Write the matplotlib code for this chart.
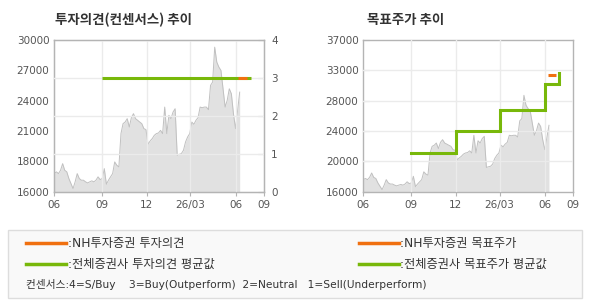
import numpy as np
import matplotlib
matplotlib.use('Agg')
import matplotlib.pyplot as plt
from matplotlib.patches import Rectangle
from matplotlib.lines import Line2D

plt.rcParams['font.family'] = ['DejaVu Sans']
KR = ['Noto Sans CJK KR', 'DejaVu Sans']
MIX = ['DejaVu Sans', 'Noto Sans CJK KR']

# stock price, one value every 3 trading days starting June
price = [17670, 17830, 17670, 17980, 18590, 17980, 17830, 17210, 16750, 16290,
         16910, 17670, 17210, 17060, 17060, 16910, 16810, 16910, 17000, 16910,
         17060, 17370, 17120, 17210, 18130, 16690, 17060, 17370, 17670, 18750,
         18440, 18290, 21360, 22280, 22430, 22740, 21970, 22830, 23200, 22740,
         22590, 22430, 22280, 21820, 21730, 20380, 20680, 20900, 21200, 21360,
         21420, 21660, 21360, 23810, 21360, 23050, 22740, 23350, 23660, 19360,
         19450, 19520, 19820, 20590, 21050, 21360, 22430, 22220, 22590, 22830,
         23810, 23750, 23810, 23810, 23570, 25810, 26120, 29340, 27960, 27500,
         27190, 25500, 23810, 24430, 25500, 25040, 23200, 21820, 23510, 25190]
day_step = 3
days = np.arange(len(price)) * day_step

tick_days = [0, 69, 133, 196, 261, 302]
tick_labels = ['06', '09', '12', '26/03', '06', '09']

# consensus (left chart)
nh_opinion_days = [264, 278]
nh_opinion = [3, 3]
avg_opinion_days = [69, 283]
avg_opinion = [3, 3]
left_ylabels = ['16000', '18000', '21000', '24000', '27000', '30000']

# target price (right chart)
avg_target_days = [69, 133, 196, 261, 282]
avg_target = [21400, 24400, 27300, 30900, 32400]
nh_target_days = [265, 277]
nh_target = [32200, 32200]
right_ylabels = ['16000', '20000', '24000', '28000', '33000', '37000']

orange = '#f07010'
green = '#78b80a'
spine_c = '#b4b4b4'
grid_c = '#ebebeb'
txt_c = '#555555'

fig = plt.figure(figsize=(5.9, 3.0), dpi=100)
W, H = 590, 300


def box(x0, y0, x1, y1):
    return [x0 / W, 1 - y1 / H, (x1 - x0) / W, (y1 - y0) / H]


def base(ax, ymin, ymax, labels):
    ax.fill_between(days, price, ymin, color='#e1e1e1', lw=0, zorder=1)
    ax.plot(days, price, color='#c0c0c0', lw=0.7, zorder=1.5)
    ax.set_xlim(tick_days[0], tick_days[-1])
    ax.set_ylim(ymin, ymax)
    ax.set_xticks(tick_days)
    ax.set_xticklabels(tick_labels)
    ax.set_yticks(np.linspace(ymin, ymax, len(labels)))
    ax.set_yticklabels(labels)
    ax.tick_params(axis='x', direction='out', length=3, color=spine_c,
                   labelsize=7.5, labelcolor=txt_c, pad=3)
    for d in tick_days[1:-1]:
        ax.axvline(d, color=grid_c, lw=1, zorder=3)
    for s in ax.spines.values():
        s.set_color(spine_c)
        s.set_linewidth(1)


# left chart
ax1 = fig.add_axes(box(54.3, 40, 264, 191.7))
base(ax1, 16000, 30000, left_ylabels)
ax1.tick_params(axis='y', length=0, labelsize=7.5, labelcolor=txt_c, pad=3.5)
ax1b = ax1.twinx()
ax1b.set_ylim(0, 4)
ax1b.set_yticks([0, 1, 2, 3, 4])
ax1b.tick_params(axis='y', direction='in', length=4, color=spine_c,
                 labelsize=7.5, labelcolor=txt_c, pad=5)
for v in [1, 2, 3]:
    ax1b.axhline(v, color=grid_c, lw=1, zorder=3)
for s in ax1b.spines.values():
    s.set_color(spine_c)
ax1b.plot(avg_opinion_days, avg_opinion, color=green, lw=2.2, zorder=5,
          solid_capstyle='butt')
ax1b.plot(nh_opinion_days, nh_opinion, color=orange, lw=2.2, zorder=6,
          solid_capstyle='butt')

# right chart
ax2 = fig.add_axes(box(363.3, 40, 573.3, 191.7))
base(ax2, 16000, 37000, right_ylabels)
ax2.tick_params(axis='y', direction='in', length=4, color=spine_c,
                labelsize=7.5, labelcolor=txt_c, pad=3.5)
for v in np.linspace(16000, 37000, 6)[1:-1]:
    ax2.axhline(v, color=grid_c, lw=1, zorder=3)
ax2.plot(avg_target_days, avg_target, color=green, lw=2.2, zorder=5,
         drawstyle='steps-post', solid_joinstyle='miter')
ax2.plot(nh_target_days, nh_target, color=orange, lw=2.2, zorder=6,
         solid_capstyle='butt')

# titles
fig.text(55 / W, 1 - 20 / H, '투자의견(컨센서스) 추이', family=KR,
         fontsize=9.7, fontweight='bold', color='#333333', va='center')
fig.text(367 / W, 1 - 20 / H, '목표주가 추이', family=KR,
         fontsize=9.7, fontweight='bold', color='#333333', va='center')

# legend box
fig.patches.append(Rectangle((8.3 / W, 1 - 297.5 / H), (582.4 - 8.3) / W,
                             (297.5 - 229.5) / H, transform=fig.transFigure,
                             facecolor='#f9f9f9', edgecolor='#dddddd', lw=1))
rows = [(243.4, orange, ':NH투자증권 투자의견', ':NH투자증권 목표주가'),
        (264.3, green, ':전체증권사 투자의견 평균값', ':전체증권사 목표주가 평균값')]
for y, c, t1, t2 in rows:
    for x0, t in [(25.7, t1), (358.5, t2)]:
        fig.lines.append(Line2D([x0 / W, (x0 + 40.5) / W], [1 - y / H, 1 - y / H],
                                transform=fig.transFigure, color=c, lw=2.5))
        fig.text((x0 + 42) / W, 1 - y / H, t, family=MIX, fontsize=8.8,
                 color='#333333', va='center')
fig.text(25.7 / W, 1 - 284.3 / H,
         '컨센서스:4=S/Buy    3=Buy(Outperform)  2=Neutral   1=Sell(Underperform)',
         family=MIX, fontsize=7.7, color='#333333', va='center')

fig.savefig('out.png', dpi=100)
